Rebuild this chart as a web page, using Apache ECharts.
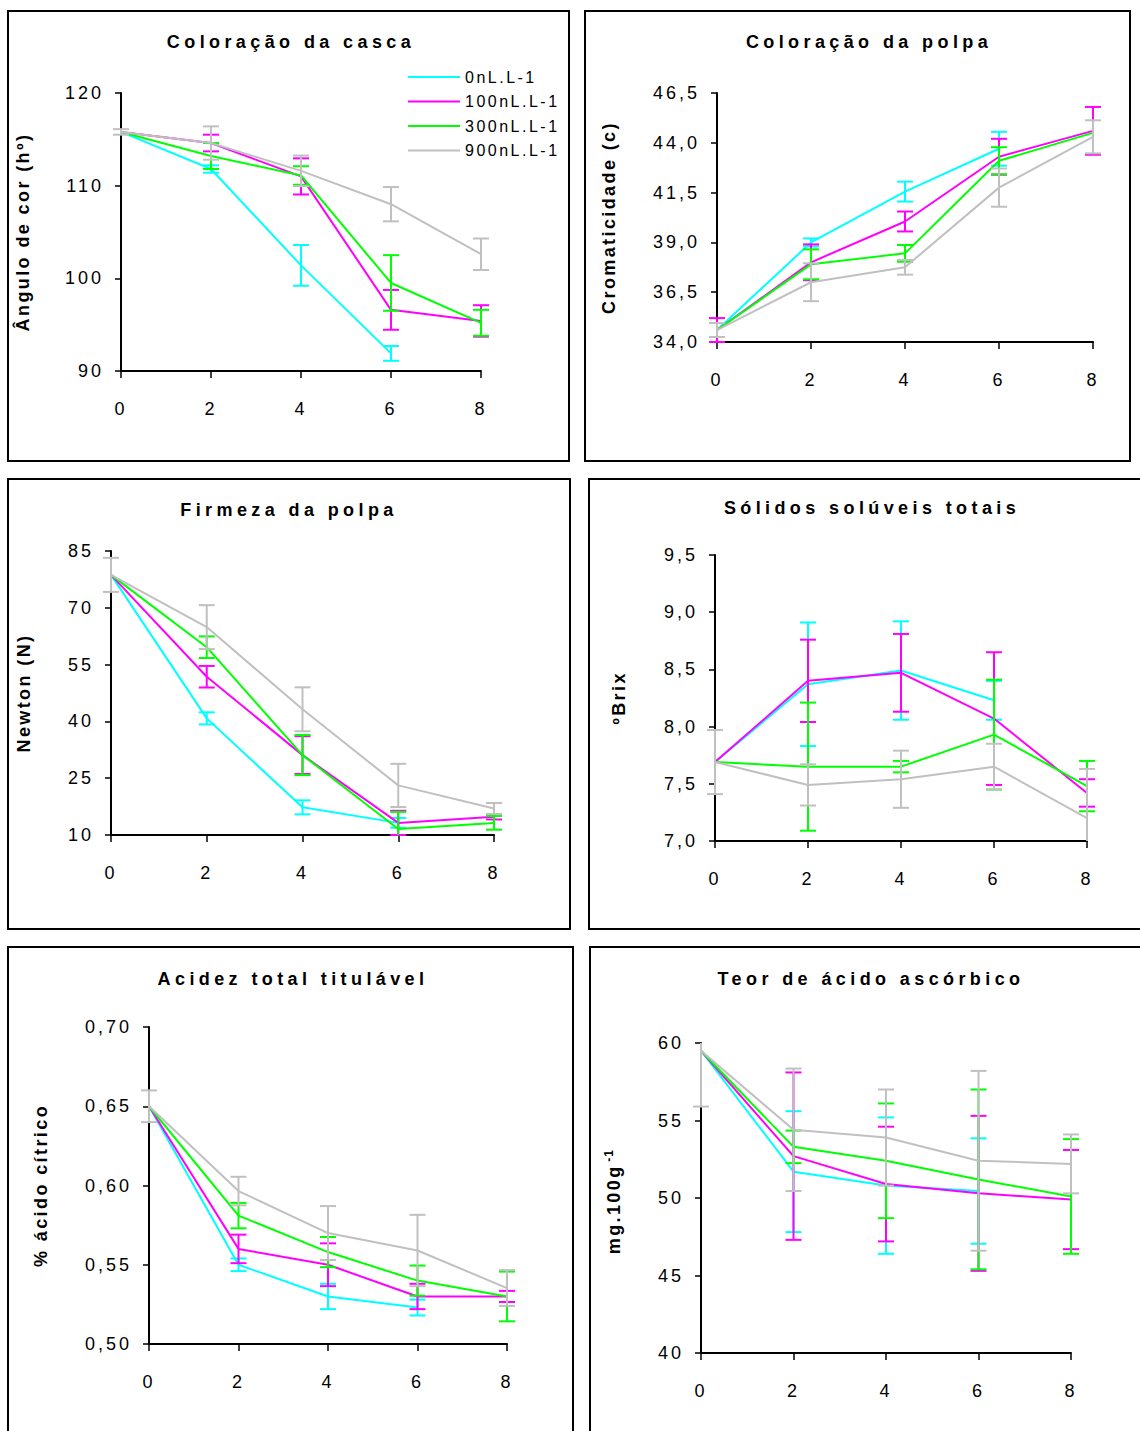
<!DOCTYPE html>
<html>
<head>
<meta charset="utf-8">
<script src="https://cdn.jsdelivr.net/npm/echarts@6/dist/echarts.min.js"></script>
<style>
html,body{margin:0;padding:0;background:#fff;}
#chart{width:1140px;height:1431px;}
</style>
</head>
<body>
<div id="chart"></div>
<script>
// ---- data ----
const days = [0, 2, 4, 6, 8];
const treatments = ['0nL.L-1', '100nL.L-1', '300nL.L-1', '900nL.L-1'];

// Coloração da casca (Ângulo de cor hº)
const casca0 = [115.8, 111.8, 101.4, 91.9, null];
const casca100 = [115.8, 114.6, 111.0, 96.6, 95.4];
const casca300 = [115.8, 113.2, 111.1, 99.5, 95.2];
const casca900 = [115.8, 114.6, 111.6, 108.0, 102.6];
const cascaErr0 = [null, 0.4, 2.2, 0.8, null];
const cascaErr100 = [null, 0.9, 1.95, 2.15, 1.7];
const cascaErr300 = [null, 1.4, 1.0, 3.0, 1.4];
const cascaErr900 = [0.3, 1.8, 1.65, 1.85, 1.7];

// Coloração da polpa (Cromaticidade c)
const polpa0 = [34.6, 39.0, 41.55, 43.7, null];
const polpa100 = [34.6, 38.0, 40.05, 43.3, 44.6];
const polpa300 = [34.6, 37.9, 38.45, 43.1, 44.5];
const polpa900 = [34.6, 37.0, 37.75, 41.75, 44.3];
const polpaErr0 = [null, 0.2, 0.5, 0.85, null];
const polpaErr100 = [0.6, 0.9, 0.5, 0.9, 1.2];
const polpaErr300 = [null, 0.75, 0.42, 0.68, null];
const polpaErr900 = [0.35, 0.95, 0.37, 0.96, 0.83];

// Firmeza da polpa (Newton)
const firm0 = [78.7, 40.8, 17.3, 13.2, null];
const firm100 = [78.7, 51.8, 31.1, 13.2, 14.8];
const firm300 = [78.7, 59.6, 31.1, 11.6, 13.2];
const firm900 = [78.7, 64.9, 43.2, 23.1, 17.0];
const firmErr0 = [null, 1.6, 1.85, 1.3, null];
const firmErr100 = [null, 2.85, 5.0, 3.2, 0.7];
const firmErr300 = [null, 2.85, 5.3, 4.5, 1.8];
const firmErr900 = [4.5, 5.8, 5.8, 5.7, 1.45];

// Sólidos solúveis totais (ºBrix)
const brix0 = [7.69, 8.37, 8.49, 8.23, null];
const brix100 = [7.69, 8.40, 8.47, 8.07, 7.42];
const brix300 = [7.69, 7.65, 7.65, 7.93, 7.48];
const brix900 = [7.69, 7.49, 7.54, 7.65, 7.20];
const brixErr0 = [null, 0.54, 0.43, 0.17, null];
const brixErr100 = [null, 0.36, 0.34, 0.58, 0.12];
const brixErr300 = [null, 0.56, 0.05, 0.48, 0.22];
const brixErr900 = [0.28, 0.18, 0.25, 0.2, 0.43];

// Acidez total titulável (% ácido cítrico)
const acid0 = [0.65, 0.55, 0.53, 0.523, null];
const acid100 = [0.65, 0.56, 0.55, 0.53, 0.53];
const acid300 = [0.65, 0.581, 0.558, 0.54, 0.53];
const acid900 = [0.65, 0.5965, 0.57, 0.559, 0.5353];
const acidErr0 = [null, 0.004, 0.008, 0.005, null];
const acidErr100 = [null, 0.009, 0.0135, 0.008, 0.0035];
const acidErr300 = [null, 0.008, 0.0095, 0.0095, 0.0157];
const acidErr900 = [0.01, 0.009, 0.017, 0.0225, 0.0113];

// Teor de ácido ascórbico (mg.100g-1)
const asc0 = [59.5, 51.7, 50.8, 50.45, null];
const asc100 = [59.5, 52.7, 50.9, 50.3, 49.9];
const asc300 = [59.5, 53.3, 52.4, 51.2, 50.1];
const asc900 = [59.5, 54.4, 53.9, 52.4, 52.2];
const ascErr0 = [null, 3.9, 4.4, 3.4, null];
const ascErr100 = [null, 5.4, 3.7, 5.0, 3.2];
const ascErr300 = [null, 1.05, 3.7, 5.8, 3.7];
const ascErr900 = [3.6, 3.95, 3.1, 5.8, 1.9];

// axis ranges / tick steps
const yMins = [90, 34, 10, 7, 0.5, 40];
const yMaxs = [120, 46.5, 85, 9.5, 0.7, 60];
const ySteps = [10, 2.5, 15, 0.5, 0.05, 5];
const yDecimals = [0, 1, 0, 1, 2, 0];
const titles = ['Coloração da casca', 'Coloração da polpa', 'Firmeza da polpa',
  'Sólidos solúveis totais', 'Acidez total titulável', 'Teor de ácido ascórbico'];
const yNames = ['Ângulo de cor (hº)', 'Cromaticidade (c)', 'Newton (N)', 'ºBrix',
  '% ácido cítrico', '{a|mg.100g}{b|-1}'];

const panelMeans = [
  [casca0, casca100, casca300, casca900],
  [polpa0, polpa100, polpa300, polpa900],
  [firm0, firm100, firm300, firm900],
  [brix0, brix100, brix300, brix900],
  [acid0, acid100, acid300, acid900],
  [asc0, asc100, asc300, asc900]
];
const panelErrs = [
  [cascaErr0, cascaErr100, cascaErr300, cascaErr900],
  [polpaErr0, polpaErr100, polpaErr300, polpaErr900],
  [firmErr0, firmErr100, firmErr300, firmErr900],
  [brixErr0, brixErr100, brixErr300, brixErr900],
  [acidErr0, acidErr100, acidErr300, acidErr900],
  [ascErr0, ascErr100, ascErr300, ascErr900]
];

// ---- layout / style ----
const colors = ['#00FFFF', '#FF00FF', '#00FF00', '#C0C0C0'];
const FONT = 'Liberation Sans, Arial, sans-serif';
const TITLE_LS = 4.4, NAME_LS = 2.4;
const grids = [
  {left: 121, top: 93, width: 360, height: 278},
  {left: 717, top: 93, width: 376, height: 249},
  {left: 111, top: 551, width: 383, height: 284},
  {left: 715, top: 555, width: 372, height: 286},
  {left: 149, top: 1027, width: 358, height: 317},
  {left: 701, top: 1043, width: 370, height: 310}
];
const titlePos = [[286, 28], [864, 28], [284, 496], [867, 494], [288, 965], [866, 965]];
const nameGaps = [89, 99, 78, 87, 99, 76];
const boxes = [
  [8, 11, 561, 450], [585, 11, 545, 450],
  [8, 479, 562, 450], [589, 479, 570, 450],
  [8, 947, 565, 520], [590, 947, 570, 520]
];

const xAxes = [], yAxes = [], series = [], titleArr = [], graphics = [];
grids.forEach((g, p) => {
  xAxes.push({
    gridIndex: p, type: 'value', min: 0, max: 8, interval: 2,
    axisLine: {onZero: false, lineStyle: {color: '#000', width: 2}},
    axisTick: {show: true, inside: false, length: 7, lineStyle: {color: '#000', width: 1.5}},
    splitLine: {show: false},
    axisLabel: {color: '#000', fontSize: 18, fontFamily: FONT, margin: 29}
  });
  yAxes.push({
    gridIndex: p, type: 'value', min: yMins[p], max: yMaxs[p], interval: ySteps[p],
    axisLine: {show: true, lineStyle: {color: '#000', width: 2}},
    axisTick: {show: true, inside: false, length: 6, lineStyle: {color: '#000', width: 1.5}},
    splitLine: {show: false},
    axisLabel: {color: '#000', fontSize: 18, fontFamily: FONT, margin: 17,
      formatter: v => v.toFixed(yDecimals[p]).replace('.', ',')},
    name: yNames[p], nameLocation: 'middle', nameGap: nameGaps[p], nameRotate: 90,
    nameTextStyle: {color: '#000', fontSize: 18, fontWeight: 700, fontFamily: FONT,
      rich: {
        a: {fontSize: 18, fontWeight: 700, fontFamily: FONT, color: '#000'},
        b: {fontSize: 12, fontWeight: 700, fontFamily: FONT, color: '#000', verticalAlign: 'top',
          padding: [0, 0, 10, 5 * NAME_LS]}
      }}
  });
  titleArr.push({
    text: titles[p], left: titlePos[p][0], top: titlePos[p][1], textAlign: 'center',
    textStyle: {color: '#000', fontSize: 18, fontWeight: 700, fontFamily: FONT}
  });
  graphics.push({
    type: 'rect', shape: {x: boxes[p][0], y: boxes[p][1], width: boxes[p][2], height: boxes[p][3]},
    style: {fill: 'none', stroke: '#000', lineWidth: 2}, silent: true, z: 100
  });
  for (let s = 0; s < 4; s++) {
    const means = panelMeans[p][s], errs = panelErrs[p][s];
    const lineData = [], errData = [];
    days.forEach((d, i) => {
      if (means[i] != null) {
        lineData.push([d, means[i]]);
        if (errs[i] != null) errData.push([d, means[i] - errs[i], means[i] + errs[i]]);
      }
    });
    series.push({
      type: 'custom', name: 'err' + p + '_' + s, xAxisIndex: p, yAxisIndex: p,
      z: 2 + s * 2, clip: false, silent: true,
      renderItem: (params, api) => {
        const xv = api.value(0);
        let lv = api.value(1), hv = api.value(2);
        const lowCap = lv >= yMins[p] - 1e-9, highCap = hv <= yMaxs[p] + 1e-9;
        lv = Math.max(lv, yMins[p]); hv = Math.min(hv, yMaxs[p]);
        const lo = api.coord([xv, lv]);
        const hi = api.coord([xv, hv]);
        const hw = 8;
        const st = {stroke: colors[s], lineWidth: 2};
        const ch = [{type: 'line', shape: {x1: lo[0], y1: lo[1], x2: hi[0], y2: hi[1]}, style: st}];
        if (lowCap) ch.push({type: 'line', shape: {x1: lo[0] - hw, y1: lo[1], x2: lo[0] + hw, y2: lo[1]}, style: st});
        if (highCap) ch.push({type: 'line', shape: {x1: hi[0] - hw, y1: hi[1], x2: hi[0] + hw, y2: hi[1]}, style: st});
        return {type: 'group', children: ch};
      },
      encode: {x: 0, y: [1, 2]},
      data: errData
    });
    series.push({
      type: 'line', name: treatments[s], xAxisIndex: p, yAxisIndex: p,
      z: 3 + s * 2, symbol: 'none', showSymbol: false,
      lineStyle: {color: colors[s], width: 2}, itemStyle: {color: colors[s]},
      data: lineData
    });
  }
});

const chart = echarts.init(document.getElementById('chart'), null, {renderer: 'svg', width: 1140, height: 1431});

function spaceLetters() {
  document.querySelectorAll('#chart svg text, #chart svg tspan').forEach(el => {
    const cs = getComputedStyle(el);
    const fs = parseFloat(cs.fontSize);
    const bold = parseInt(cs.fontWeight, 10) >= 600 || cs.fontWeight === 'bold';
    const txt = el.textContent || '';
    let ls = 2.5;
    if (bold && titles.indexOf(txt) >= 0) ls = TITLE_LS;
    else if (bold && fs >= 17) ls = NAME_LS;
    else if (bold) ls = 1;
    else if (Math.abs(fs - 18) < 0.5) ls = 3;
    el.style.letterSpacing = ls + 'px';
  });
}
chart.on('finished', spaceLetters);

chart.setOption({
  backgroundColor: '#fff',
  animation: false,
  title: titleArr,
  legend: {
    data: treatments.map(n => ({name: n, icon: 'rect'})),
    orient: 'vertical', left: 403, top: 64,
    itemWidth: 52, itemHeight: 2, itemGap: 8.5, selectedMode: false,
    textStyle: {color: '#000', fontSize: 16, fontFamily: FONT}
  },
  grid: grids.map(g => Object.assign({containLabel: false}, g)),
  xAxis: xAxes,
  yAxis: yAxes,
  series: series,
  graphic: graphics
});
spaceLetters();
setTimeout(spaceLetters, 50);
</script>
</body>
</html>
